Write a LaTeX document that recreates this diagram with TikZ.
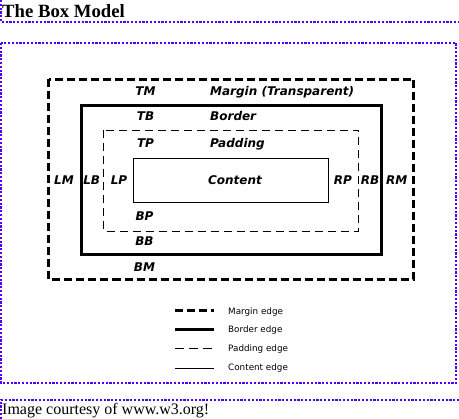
\documentclass[tikz,border=0pt]{standalone}
\usepackage{fontspec}
\setmainfont{Liberation Serif}
\newfontfamily\boxfont{DejaVu Sans}
\usetikzlibrary{positioning}
\definecolor{cssblue}{RGB}{80,0,255}

\begin{document}
\begin{tikzpicture}
[x=1pt, y=-1pt,
lbl/.style={font=\boxfont\bfseries\itshape\fontsize{12}{14}\selectfont, inner sep=0pt, anchor=base},
key/.style={font=\boxfont\fontsize{8.8}{10}\selectfont, inner sep=0pt, anchor=base west},
frame/.style={cssblue, line width=1.1pt, dash pattern=on 2.2pt off 1.6pt},
marginedge/.style={line width=3pt, dash pattern=on 8pt off 4pt},
borderedge/.style={line width=3pt},
paddingedge/.style={line width=0.9pt, dash pattern=on 8pt off 5pt},
contentedge/.style={line width=0.9pt}]
\useasboundingbox (0,0) rectangle (459,419);

% page frames
\draw[frame] (1,0) -- (1,22) -- (459,22);
\draw[frame] (1,43) rectangle (456,383);
\draw[frame] (1,419) -- (1,400) -- (459,400);

\node (title) at (2,17.5)[anchor=base west,inner sep=0pt,font=\bfseries\fontsize{18.7}{22}\selectfont] {The Box Model};
\node (credit) at (2,414.5)[anchor=base west,inner sep=0pt,font=\fontsize{16}{19}\selectfont] {Image courtesy of www.w3.org!};

% the four edges
\draw[marginedge] (48.5,79.5) rectangle (413.5,279.5);
\draw[borderedge] (81.5,105.5) rectangle (381,255);
\draw[paddingedge] (103.5,130.5) rectangle (358.5,231.5);
\draw[contentedge] (133.5,158.5) rectangle (328.5,202.5);

\node (tm) at (145.5,96)[lbl] {TM};
\node (tb) at (145.5,121)[lbl] {TB};
\node (tp) at (145.5,148)[lbl] {TP};
\node (margin) at (210,96)[lbl,anchor=base west] {Margin (Transparent)};
\node (border) at (210,121)[lbl,anchor=base west] {Border};
\node (padding) at (210,148)[lbl,anchor=base west] {Padding};
\node (content) at (235,184.3)[lbl] {Content};

\node (lm) at (64,184.3)[lbl] {LM};
\node (lb) at (91.7,184.3)[lbl] {LB};
\node (lp) at (119,184.3)[lbl] {LP};
\node (rp) at (343,184.3)[lbl] {RP};
\node (rb) at (370,184.3)[lbl] {RB};
\node (rm) at (396.7,184.3)[lbl] {RM};

\node (bp) at (144.5,221)[lbl] {BP};
\node (bb) at (144.5,246)[lbl] {BB};
\node (bm) at (144.5,272)[lbl] {BM};

% legend
\coordinate (m1) at (175,311);   \coordinate (m2) at (214,311);
\coordinate (b1) at (175,330);   \coordinate (b2) at (214,330);
\coordinate (p1) at (175,348.5); \coordinate (p2) at (214,348.5);
\coordinate (c1) at (175,368);   \coordinate (c2) at (214,368);
\draw[marginedge] (m1) -- (m2);
\draw[borderedge] (b1) -- (b2);
\draw[paddingedge,dash pattern=on 9pt off 5pt] (p1) -- (p2);
\draw[contentedge] (c1) -- (c2);
\node (kmargin) at (228,314.3)[key] {Margin edge};
\node (kborder) at (228,332.8)[key] {Border edge};
\node (kpadding) at (228,351.7)[key] {Padding edge};
\node (kcontent) at (228,370.3)[key] {Content edge};
\end{tikzpicture}
\end{document}
